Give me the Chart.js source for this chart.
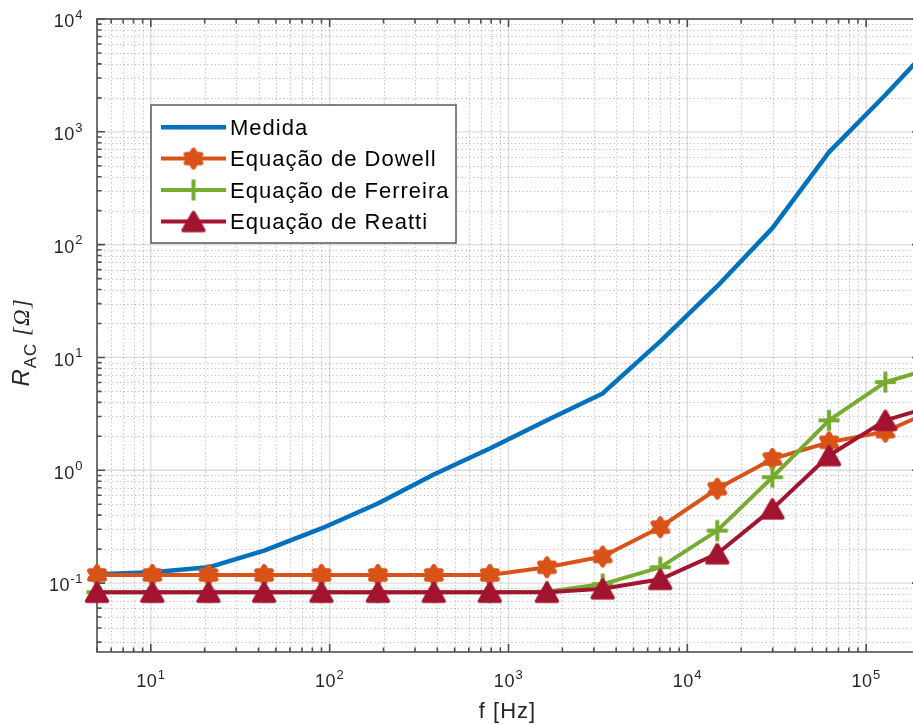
<!DOCTYPE html>
<html>
<head>
<meta charset="utf-8">
<script src="https://cdn.jsdelivr.net/npm/chart.js@4.4.1/dist/chart.umd.min.js"></script>
<style>
  html, body { margin: 0; padding: 0; overflow: hidden; background: #fff; width: 913px; height: 724px; }
  #wrap { position: absolute; left: 0; top: 0; width: 920px; height: 724px; }
</style>
</head>
<body>
<div id="wrap"><canvas id="c" width="920" height="724"></canvas></div>
<script>
// Frequency sweep [Hz] and AC resistance [ohm] for each curve
const frequencies = [5, 10.2, 21, 43, 90, 186, 382, 786, 1640, 3360, 7060, 14700, 29900, 62000, 128000, 264000];
const medida   = [0.12, 0.125, 0.138, 0.194, 0.305, 0.507, 0.918, 1.56, 2.77, 4.8, 13.9, 42.8, 140, 661, 2120, 7200];
const dowell   = [0.118, 0.118, 0.118, 0.118, 0.118, 0.118, 0.118, 0.118, 0.138, 0.172, 0.313, 0.686, 1.26, 1.77, 2.2, 3.68];
const ferreira = [0.083, 0.083, 0.083, 0.083, 0.083, 0.083, 0.083, 0.083, 0.084, 0.098, 0.138, 0.292, 0.868, 2.77, 6.05, 8.5];
const reatti   = [0.083, 0.083, 0.083, 0.083, 0.083, 0.083, 0.083, 0.083, 0.083, 0.089, 0.108, 0.182, 0.455, 1.35, 2.77, 3.9];

const seriesNames = ['Medida', 'Equação de Dowell', 'Equação de Ferreira', 'Equação de Reatti'];
const xLimits = [5, 2e5];
const yLimits = [0.0245, 1e4];
const xTitle = 'f [Hz]';

const COLORS = ['#0072BD', '#D95319', '#77AC30', '#A2142F'];
const AXIS_COLOR = '#262626';
const FONT = '"Liberation Sans", Arial, Helvetica, sans-serif';

// ---- marker glyphs (filled hexagram, plus sign, triangle) ----
function makeCanvas(size) {
  const c = document.createElement('canvas');
  c.width = size; c.height = size;
  return c;
}
function hexagram(color) {
  const c = makeCanvas(30), g = c.getContext('2d');
  g.translate(15, 15);
  const R = 8.5, r = R / Math.sqrt(3);
  g.beginPath();
  for (let i = 0; i < 12; i++) {
    const a = -Math.PI / 2 + i * Math.PI / 6;
    const rad = i % 2 ? r : R;
    const px = Math.cos(a) * rad, py = Math.sin(a) * rad;
    i ? g.lineTo(px, py) : g.moveTo(px, py);
  }
  g.closePath();
  g.fillStyle = color; g.fill();
  g.lineWidth = 5; g.lineJoin = 'round'; g.strokeStyle = color; g.stroke();
  return c;
}
function plus(color) {
  const c = makeCanvas(28), g = c.getContext('2d');
  g.translate(14, 14);
  g.strokeStyle = color; g.lineWidth = 4; g.lineCap = 'butt';
  g.beginPath();
  g.moveTo(-10.5, 0); g.lineTo(10.5, 0);
  g.moveTo(0, -10.5); g.lineTo(0, 10.5);
  g.stroke();
  return c;
}
function triangle(color) {
  // upward triangle centred on its bounding box
  const c = makeCanvas(30), g = c.getContext('2d');
  g.translate(15, 15);
  g.beginPath();
  g.moveTo(0, -9);
  g.lineTo(10.4, 9);
  g.lineTo(-10.4, 9);
  g.closePath();
  g.fillStyle = color; g.fill();
  g.lineWidth = 3.5; g.lineJoin = 'round'; g.strokeStyle = color; g.stroke();
  return c;
}
const markers = [null, hexagram(COLORS[1]), plus(COLORS[2]), triangle(COLORS[3])];
const lineWidths = [4.5, 4, 4, 4];

// ---- helpers for log axes ----
function isNice(v) {
  const e = Math.floor(Math.log10(v) + 1e-9);
  const m = v / Math.pow(10, e);
  return Math.abs(m - Math.round(m)) < 1e-6;
}
function isDecade(v) {
  const l = Math.log10(v);
  return Math.abs(l - Math.round(l)) < 1e-6;
}
function niceTicks(scale) {
  return scale.ticks.map(t => t.value)
    .filter(v => v >= scale.min * 0.9999 && v <= scale.max * 1.0001 && isNice(v));
}
function powLabel(ctx, v, x, y, align) {
  // draws "10" followed by a raised exponent
  const exp = String(Math.round(Math.log10(v)));
  ctx.font = '18px ' + FONT;
  const wb = ctx.measureText('10').width;
  ctx.font = '13px ' + FONT;
  const we = ctx.measureText(exp).width;
  const total = wb + 0.5 + we;
  let x0 = align === 'right' ? x - total : x - total / 2;
  ctx.textAlign = 'left';
  ctx.textBaseline = 'alphabetic';
  ctx.font = '18px ' + FONT;
  ctx.fillText('10', x0, y);
  ctx.font = '13px ' + FONT;
  ctx.fillText(exp, x0 + wb + 0.5, y - 8.5);
}

const axesPlugin = {
  id: 'matlabAxes',
  beforeDatasetsDraw(chart) {
    const ctx = chart.ctx, a = chart.chartArea;
    const xs = chart.scales.x, ys = chart.scales.y;
    const xv = niceTicks(xs), yv = niceTicks(ys);
    ctx.save();
    // minor grid (dotted)
    ctx.strokeStyle = 'rgba(38,38,38,0.3)';
    ctx.lineWidth = 1;
    ctx.setLineDash([1.2, 2.6]);
    ctx.beginPath();
    xv.filter(v => !isDecade(v)).forEach(v => {
      const px = Math.round(xs.getPixelForValue(v)) + 0.5;
      ctx.moveTo(px, a.top); ctx.lineTo(px, a.bottom);
    });
    yv.filter(v => !isDecade(v)).forEach(v => {
      const py = Math.round(ys.getPixelForValue(v)) + 0.5;
      ctx.moveTo(a.left, py); ctx.lineTo(a.right, py);
    });
    ctx.stroke();
    // major grid (solid)
    ctx.setLineDash([]);
    ctx.strokeStyle = 'rgba(38,38,38,0.16)';
    ctx.lineWidth = 1.3;
    ctx.beginPath();
    xv.filter(isDecade).forEach(v => {
      const px = xs.getPixelForValue(v);
      ctx.moveTo(px, a.top); ctx.lineTo(px, a.bottom);
    });
    yv.filter(isDecade).forEach(v => {
      const py = ys.getPixelForValue(v);
      ctx.moveTo(a.left, py); ctx.lineTo(a.right, py);
    });
    ctx.stroke();

    // axes box
    ctx.strokeStyle = '#505050';
    ctx.lineWidth = 1.6;
    ctx.strokeRect(a.left, a.top, a.right - a.left, a.bottom - a.top);

    // inward tick marks on all four sides
    ctx.beginPath();
    xv.forEach(v => {
      const px = xs.getPixelForValue(v), len = isDecade(v) ? 8 : 4.5;
      ctx.moveTo(px, a.bottom); ctx.lineTo(px, a.bottom - len);
      ctx.moveTo(px, a.top); ctx.lineTo(px, a.top + len);
    });
    yv.forEach(v => {
      const py = ys.getPixelForValue(v), len = isDecade(v) ? 8 : 4.5;
      ctx.moveTo(a.left, py); ctx.lineTo(a.left + len, py);
      ctx.moveTo(a.right, py); ctx.lineTo(a.right - len, py);
    });
    ctx.stroke();

    // tick labels
    ctx.fillStyle = AXIS_COLOR;
    ctx.letterSpacing = '0.5px';
    xv.filter(isDecade).forEach(v => {
      powLabel(ctx, v, xs.getPixelForValue(v), a.bottom + 35, 'center');
    });
    yv.filter(isDecade).forEach(v => {
      powLabel(ctx, v, a.left - 14, ys.getPixelForValue(v) + 8.3, 'right');
    });

    // x title
    ctx.letterSpacing = '1px';
    ctx.font = '22px ' + FONT;
    ctx.textAlign = 'center';
    ctx.textBaseline = 'alphabetic';
    ctx.fillText(xTitle, (a.left + a.right) / 2 - 1, 718);

    // y title: R_AC [Ω]
    ctx.save();
    ctx.translate(29, (a.top + a.bottom) / 2 + 7);
    ctx.rotate(-Math.PI / 2);
    ctx.textAlign = 'left';
    ctx.letterSpacing = '1px';
    const parts = [
      { t: 'R', f: 'italic 24px ' + FONT, dy: 0 },
      { t: 'AC', f: '17px ' + FONT, dy: 6.5 },
      { t: ' [Ω]', f: 'italic 23px "Liberation Serif", "Times New Roman", serif', dy: 0 }
    ];
    let tw = 0;
    parts.forEach(p => { ctx.font = p.f; p.w = ctx.measureText(p.t).width; tw += p.w; });
    let x = -tw / 2;
    parts.forEach(p => { ctx.font = p.f; ctx.fillText(p.t, x, p.dy); x += p.w; });
    ctx.restore();
    ctx.restore();
  },
  afterDatasetsDraw(chart) {
    // legend box in the upper left of the axes
    const ctx = chart.ctx;
    const box = { x: 151, y: 105, w: 305, h: 138 };
    const rows = [127.3, 158.6, 190, 221.5];
    ctx.save();
    ctx.fillStyle = '#fff';
    ctx.fillRect(box.x, box.y, box.w, box.h);
    ctx.strokeStyle = '#5a5a5a';
    ctx.lineWidth = 1.5;
    ctx.strokeRect(box.x, box.y, box.w, box.h);
    chart.data.datasets.forEach((ds, i) => {
      const y = rows[i];
      ctx.strokeStyle = ds.borderColor;
      ctx.lineWidth = ds.borderWidth;
      ctx.beginPath();
      ctx.moveTo(161, y); ctx.lineTo(226, y);
      ctx.stroke();
      if (markers[i]) {
        const m = markers[i];
        ctx.drawImage(m, 193.5 - m.width / 2, y - m.height / 2);
      }
      ctx.fillStyle = '#000';
      ctx.font = '22px ' + FONT;
      ctx.letterSpacing = '1px';
      ctx.textAlign = 'left';
      ctx.textBaseline = 'alphabetic';
      ctx.fillText(ds.label, 230, y + 7.8);
    });
    ctx.restore();
  }
};

const series = [medida, dowell, ferreira, reatti];
const datasets = series.map((vals, i) => ({
  label: seriesNames[i],
  data: frequencies.map((f, k) => ({ x: f, y: vals[k] })),
  borderColor: COLORS[i],
  backgroundColor: COLORS[i],
  borderWidth: lineWidths[i],
  borderJoinStyle: 'round',
  borderCapStyle: 'round',
  tension: 0,
  pointStyle: markers[i] || 'circle',
  pointRadius: markers[i] ? 10 : 0,
  pointHoverRadius: markers[i] ? 10 : 0,
  pointBorderWidth: 0,
  order: 4 - i,
  clip: { left: 20, top: 2, right: 0, bottom: 2 }
}));

new Chart(document.getElementById('c'), {
  type: 'line',
  data: { datasets },
  options: {
    responsive: false,
    animation: false,
    devicePixelRatio: 1,
    layout: { autoPadding: false, padding: { top: 19, left: 0, right: 0, bottom: 0 } },
    plugins: { legend: { display: false }, tooltip: { enabled: false } },
    events: [],
    scales: {
      x: {
        type: 'logarithmic', min: xLimits[0], max: xLimits[1],
        grid: { display: false }, border: { display: false },
        ticks: { display: false },
        afterFit(s) { s.height = 72; }
      },
      y: {
        type: 'logarithmic', min: yLimits[0], max: yLimits[1],
        grid: { display: false }, border: { display: false },
        ticks: { display: false },
        afterFit(s) { s.width = 97; }
      }
    }
  },
  plugins: [axesPlugin]
});
</script>
</body>
</html>
